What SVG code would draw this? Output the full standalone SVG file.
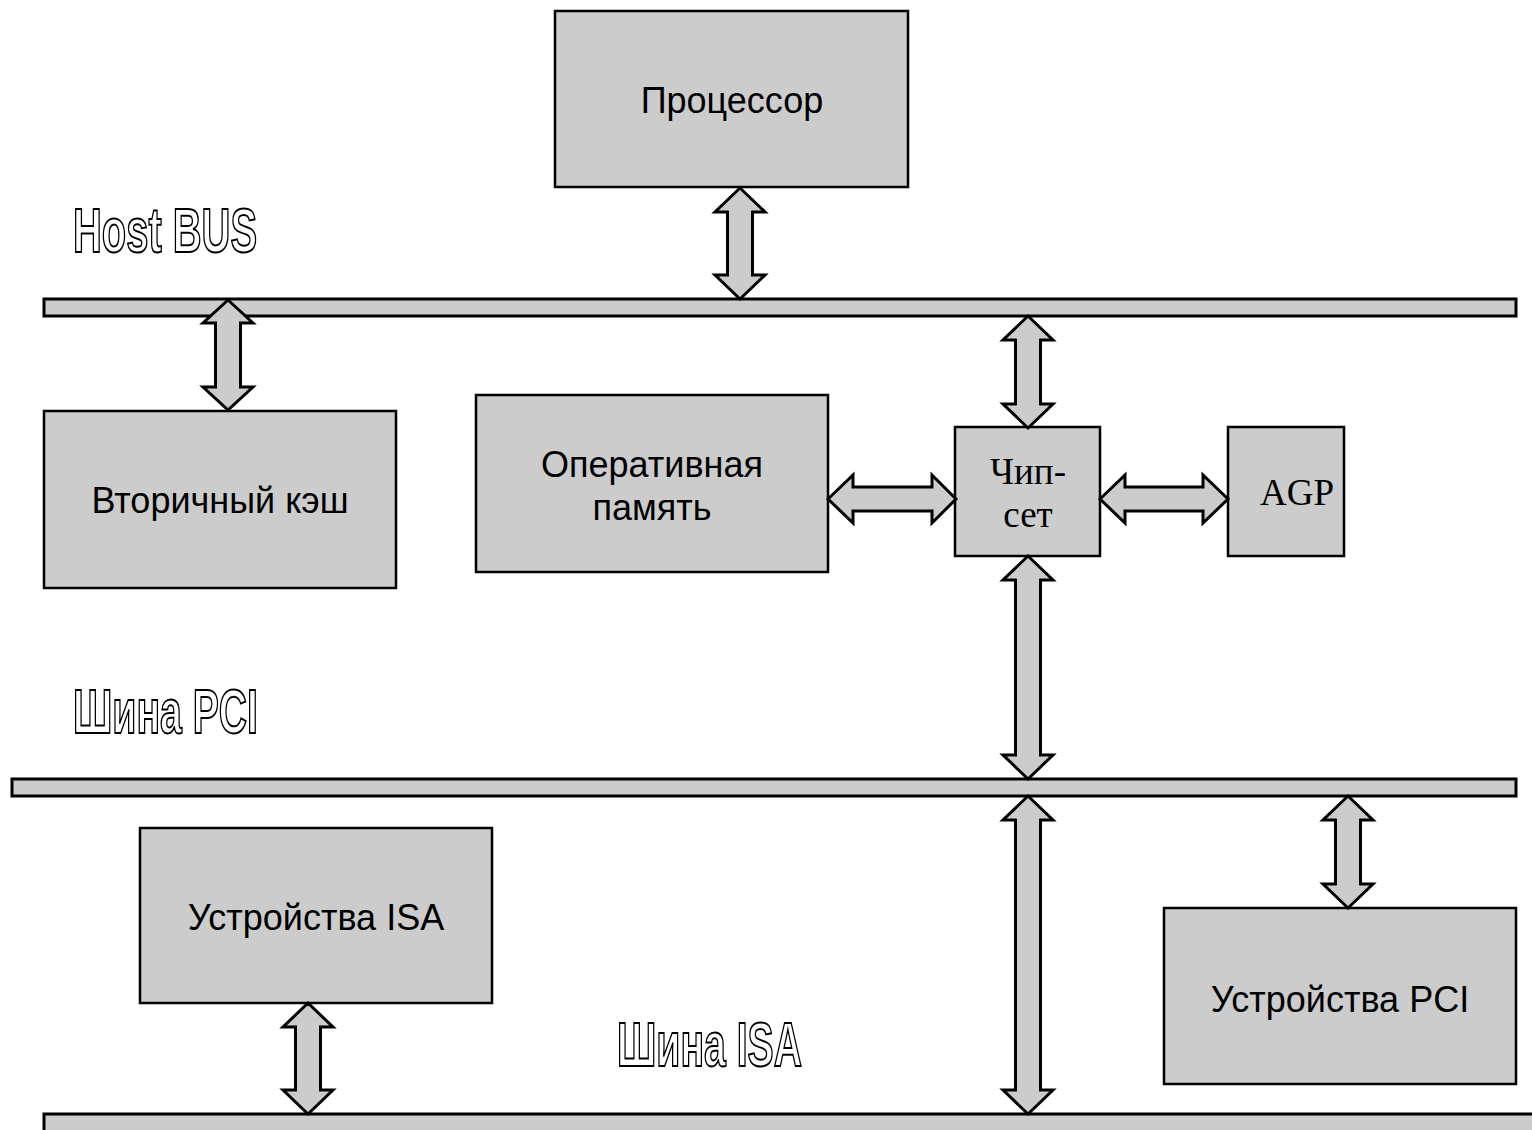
<svg xmlns="http://www.w3.org/2000/svg" width="1532" height="1130" viewBox="0 0 1532 1130">
<style>
.box{fill:#cccccc;stroke:#000;stroke-width:2.5}
.bus{fill:#cccccc;stroke:#000;stroke-width:3}
.arr{fill:#cccccc;stroke:#000;stroke-width:3;stroke-linejoin:miter}
.t{font-family:"Liberation Sans",Arial,sans-serif;font-size:36px;fill:#000;text-anchor:middle}
.s{font-family:"Liberation Serif","Times New Roman",serif;font-size:37px;fill:#000;text-anchor:middle}
.o{font-family:"Liberation Sans",Arial,sans-serif;font-size:63px;font-weight:bold;fill:#fff;stroke:#000;stroke-width:2}
</style>
<rect width="1532" height="1130" fill="#fff"/>
<g id="buses">
<rect id="hostbus" class="bus" x="44" y="299" width="1472" height="17"/>
<rect id="pcibus" class="bus" x="12" y="779" width="1504" height="17"/>
<rect id="isabus" class="bus" x="44" y="1114" width="1500" height="30"/>
</g>
<g id="labels">
<text class="o" x="73" y="252" textLength="184" lengthAdjust="spacingAndGlyphs">Host BUS</text>
<text class="o" x="73" y="733" textLength="185" lengthAdjust="spacingAndGlyphs">Шина PCI</text>
<text class="o" x="617" y="1066" textLength="185" lengthAdjust="spacingAndGlyphs">Шина ISA</text>
</g>
<g id="cpu"><rect class="box" x="555" y="11" width="353" height="176"/><text class="t" x="732" y="113">Процессор</text></g>
<g id="cache"><rect class="box" x="44" y="411" width="352" height="177"/><text class="t" x="220" y="513">Вторичный кэш</text></g>
<g id="ram"><rect class="box" x="476" y="395" width="352" height="177"/><text class="t" x="652" y="477">Оперативная</text><text class="t" x="652" y="520">память</text></g>
<g id="chipset"><rect class="box" x="955" y="427" width="145" height="129"/><text class="s" x="1028" y="484">Чип-</text><text class="s" x="1028" y="527">сет</text></g>
<g id="agp"><rect class="box" x="1228" y="427" width="116" height="129"/><text class="s" x="1297" y="505">AGP</text></g>
<g id="isadev"><rect class="box" x="140" y="828" width="352" height="175"/><text class="t" x="316" y="930">Устройства ISA</text></g>
<g id="pcidev"><rect class="box" x="1164" y="908" width="352" height="176"/><text class="t" x="1340" y="1012">Устройства PCI</text></g>
<g id="connectors">
<polygon class="arr" points="740,188 765,212 752.5,212 752.5,275 765,275 740,299 715,275 727.5,275 727.5,212 715,212"/>
<polygon class="arr" points="228,300 253,323 240.5,323 240.5,387 253,387 228,410 203,387 215.5,387 215.5,323 203,323"/>
<polygon class="arr" points="1028,316 1053,340 1040.5,340 1040.5,404 1053,404 1028,428 1003,404 1015.5,404 1015.5,340 1003,340"/>
<polygon class="arr" points="1028,556 1053,580 1040.5,580 1040.5,755 1053,755 1028,779 1003,755 1015.5,755 1015.5,580 1003,580"/>
<polygon class="arr" points="1028,796 1053,820 1040.5,820 1040.5,1090 1053,1090 1028,1114 1003,1090 1015.5,1090 1015.5,820 1003,820"/>
<polygon class="arr" points="1348,796 1373,820 1360.5,820 1360.5,884 1373,884 1348,908 1323,884 1335.5,884 1335.5,820 1323,820"/>
<polygon class="arr" points="308,1003 333,1027 320.5,1027 320.5,1090 333,1090 308,1114 283,1090 295.5,1090 295.5,1027 283,1027"/>
<polygon class="arr" points="828,499 853,475 853,487 932,487 932,475 956,499 932,523 932,511 853,511 853,523"/>
<polygon class="arr" points="1100,499 1125,475 1125,487 1203,487 1203,475 1228,499 1203,523 1203,511 1125,511 1125,523"/>
</g>
</svg>
